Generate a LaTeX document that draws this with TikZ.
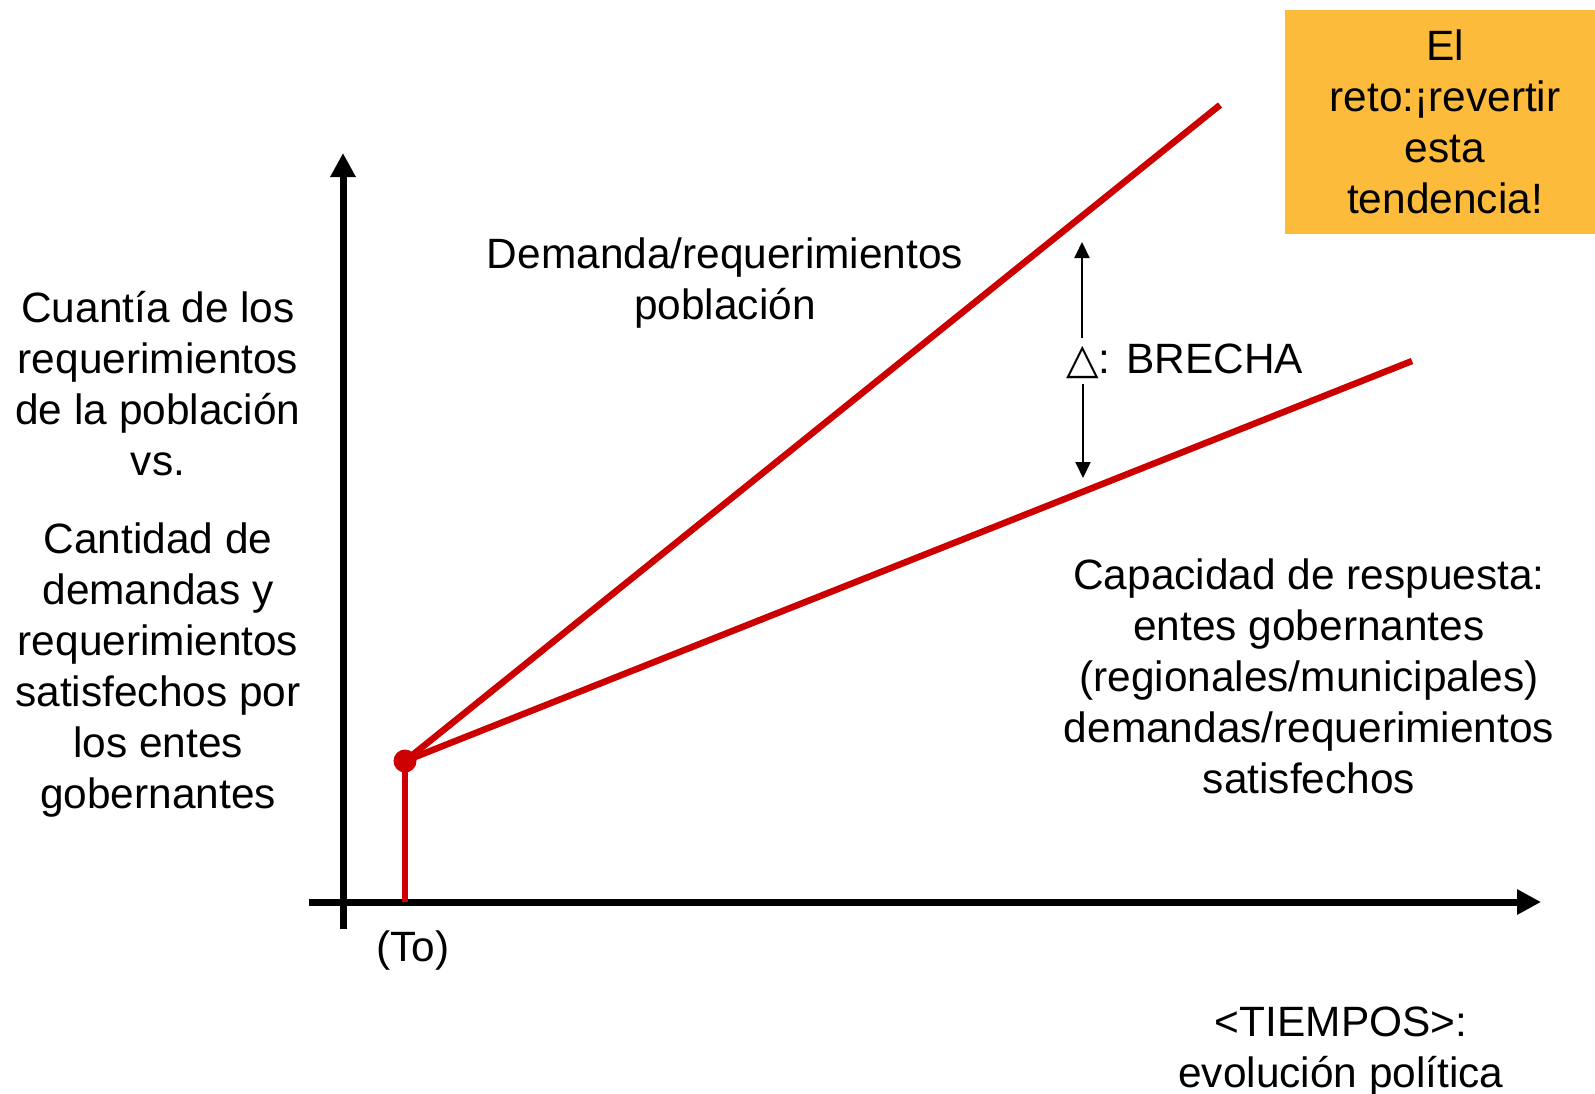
\documentclass[tikz,border=0pt]{standalone}
\usepackage{fontspec}
\setmainfont{Liberation Sans}
\newfontfamily\symfont{DejaVu Sans}
\usetikzlibrary{arrows.meta}
\definecolor{trendred}{RGB}{204,0,0}
\definecolor{goalorange}{RGB}{253,187,59}

\begin{document}
\begin{tikzpicture}[x=1pt, y=-1pt,
  txt/.style={align=center, font=\fontsize{42.4}{51}\selectfont, inner sep=0pt},
  axis/.style={line width=7pt, -{Triangle[length=24pt,width=24pt]}},
  trend/.style={line width=6.5pt, trendred},
  gap/.style={line width=2pt, -{Triangle[length=16pt,width=15pt]}},
  dot/.style={circle, fill=trendred, inner sep=0pt, minimum size=23pt},
  goal/.style={txt, fill=goalorange, minimum width=320pt, minimum height=224pt}]

\useasboundingbox (0,0) rectangle (1595,1093);

% axes
\coordinate (ybot) at (343,929);
\coordinate (ytop) at (343,153);
\coordinate (xleft) at (309,902);
\coordinate (xright) at (1541,902);
\draw[axis] (ybot) -- (ytop);
\draw[axis] (xleft) -- (xright);

% starting point T0
\coordinate (t0base) at (405,902);
\node[dot] (t0) at (405,761) {};
\draw[trend] (t0base) -- (t0.center);
\node[txt] (t0lbl) at (413,951) {(To)};

% demand and capacity trends
\coordinate (demend) at (1220,105);
\coordinate (capend) at (1412,361);
\draw[trend] (t0.center) -- (demend);
\draw[trend] (t0.center) -- (capend);

% gap between both trends
\node[txt, anchor=west] (brecha) at (1066,361) {{\symfont △}: BRECHA};
\coordinate (gaptop) at (1082,242);
\coordinate (gapbot) at (1083,478);
\draw[gap, shorten <=5pt] (brecha.north -| gaptop) -- (gaptop);
\draw[gap, shorten <=5pt] (brecha.south -| gapbot) -- (gapbot);

% labels of the trends
\node[txt] (demlbl) at (725,283) {Demanda/requerimientos\\poblaci\'on};
\node[txt] (caplbl) at (1309,676) {Capacidad de respuesta:\\entes gobernantes\\(regionales/municipales)\\demandas/requerimientos\\satisfechos};

% axis labels
\node[txt] (ylbla) at (158,384) {Cuant\'ia de los\\requerimientos\\de la poblaci\'on\\vs.};
\node[txt] (ylblb) at (158,670) {Cantidad de\\demandas y\\requerimientos\\satisfechos por\\los entes\\gobernantes};
\node[txt] (xlbl) at (1341,1052) {<TIEMPOS>:\\evoluci\'on pol\'itica};

% challenge box
\node[goal] (reto) at (1445,122) {El\\reto:¡revertir\\esta\\tendencia!};

\end{tikzpicture}
\end{document}
